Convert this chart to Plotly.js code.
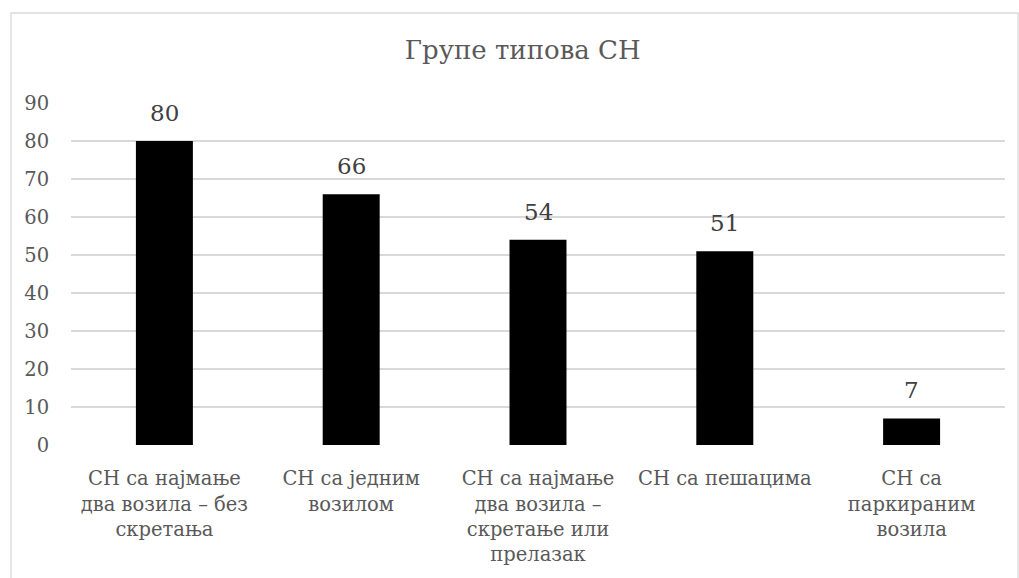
<!DOCTYPE html>
<html><head><meta charset="utf-8">
<script src="https://cdn.plot.ly/plotly-3.0.1.min.js"></script>
<style>body{margin:0;background:#fff}#chart{width:1019px;height:578px}</style>
</head><body><div id="chart"></div>
<script>
const categories = [
  "СН са најмање<br>два возила – без<br>скретања",
  "СН са једним<br>возилом",
  "СН са најмање<br>два возила –<br>скретање или<br>прелазак",
  "СН са пешацима",
  "СН са<br>паркираним<br>возила"
];
const values = [80, 66, 54, 51, 7];
const yTicks = [0,10,20,30,40,50,60,70,80,90];
const titleText = "Групе типова СН";

const font = "DejaVu Serif";
const trace = {
  type: "bar", x: categories, y: values,
  marker: {color: "#000000", line: {width: 0}},
  hoverinfo: "none", cliponaxis: false
};
const annotations = categories.map((c, i) => ({
  x: c, y: values[i], xref: "x", yref: "y", text: String(values[i]),
  showarrow: false, yanchor: "bottom", yshift: 13,
  font: {family: font, size: 23, color: "#404040"}
}));
const layout = {
  width: 1019, height: 578,
  margin: {l: 71, r: 14, t: 103, b: 133},
  paper_bgcolor: "#fff", plot_bgcolor: "#fff",
  showlegend: false, bargap: 0.695,
  font: {family: font},
  title: {text: titleText, font: {family: font, size: 26, color: "#595959"},
          x: 0.513, xanchor: "center", y: 1 - 50/578, yanchor: "middle", yref: "container"},
  xaxis: {type: "category", showgrid: false, zeroline: false, showline: false,
          ticks: "outside", ticklen: 16, tickcolor: "rgba(0,0,0,0)",
          tickfont: {family: font, size: 19.5, color: "#595959"}, tickangle: 0},
  yaxis: {range: [0, 90], tickvals: yTicks, ticktext: yTicks.map(String),
          showgrid: true, gridcolor: "#d9d9d9", gridwidth: 1.3, zeroline: false,
          showline: false, ticks: "outside", ticklen: 17, tickcolor: "rgba(0,0,0,0)",
          tickfont: {family: font, size: 19.5, color: "#595959"}},
  annotations: annotations,
  shapes: [{type: "rect", xref: "paper", yref: "paper",
            x0: (11-71)/934, x1: (1018-71)/934, y0: (445-600)/342, y1: (445-13)/342,
            line: {color: "#d9d9d9", width: 1.3}, fillcolor: "rgba(0,0,0,0)", layer: "below"}]
};
Plotly.newPlot("chart", [trace], layout, {staticPlot: true, displayModeBar: false});
</script></body></html>
